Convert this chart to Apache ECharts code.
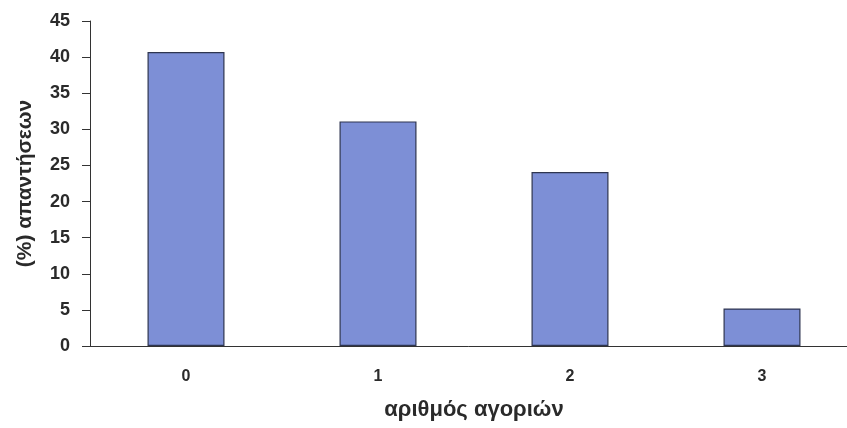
<!DOCTYPE html>
<html>
<head>
<meta charset="utf-8">
<script src="https://cdn.jsdelivr.net/npm/echarts@6/dist/echarts.min.js"></script>
<style>
  html, body { margin: 0; padding: 0; background: #fff; }
  #chart { width: 847px; height: 428px; }
</style>
</head>
<body>
<div id="chart"></div>
<script>
// αριθμός αγοριών -> ποσοστό απαντήσεων
const categories = ['0', '1', '2', '3']
const percentages = [40.7, 31.1, 24.1, 5.2]
const yTicks = { min: 0, max: 45, interval: 5 }

const chart = echarts.init(document.getElementById('chart'))
const font = '"Liberation Sans", Arial, sans-serif'

chart.setOption({
  backgroundColor: '#fff',
  animation: false,
  // the original picture is cropped on the right, so the grid runs past the edge
  grid: { left: 90, top: 21, width: 768, bottom: 82, containLabel: false, outerBoundsMode: 'none' },
  xAxis: {
    type: 'category',
    data: categories,
    name: 'αριθμός αγοριών',
    nameLocation: 'middle',
    nameGap: 53,
    nameTextStyle: { fontFamily: font, fontWeight: 'bold', fontSize: 22, color: '#2a2a2a' },
    axisLine: { lineStyle: { color: '#333', width: 1 } },
    axisTick: { length: 7, lineStyle: { color: '#333' } },
    axisLabel: { margin: 23, fontFamily: font, fontWeight: 'bold', fontSize: 16, color: '#2a2a2a' }
  },
  yAxis: {
    type: 'value',
    min: yTicks.min,
    max: yTicks.max,
    interval: yTicks.interval,
    name: '(%) απαντήσεων',
    nameLocation: 'middle',
    nameGap: 54,
    nameTextStyle: { fontFamily: font, fontWeight: 'bold', fontSize: 21, color: '#2a2a2a' },
    axisLine: { show: true, lineStyle: { color: '#333', width: 1 } },
    axisTick: { show: true, inside: false, length: 8, lineStyle: { color: '#333' } },
    axisLabel: { margin: 20, fontFamily: font, fontWeight: 'bold', fontSize: 18, color: '#2a2a2a' },
    splitLine: { show: false }
  },
  series: [{
    type: 'bar',
    data: percentages,
    barWidth: 77,
    itemStyle: { color: '#7d8fd6', borderColor: '#2e3550', borderWidth: 1.2 }
  }]
})
</script>
</body>
</html>
